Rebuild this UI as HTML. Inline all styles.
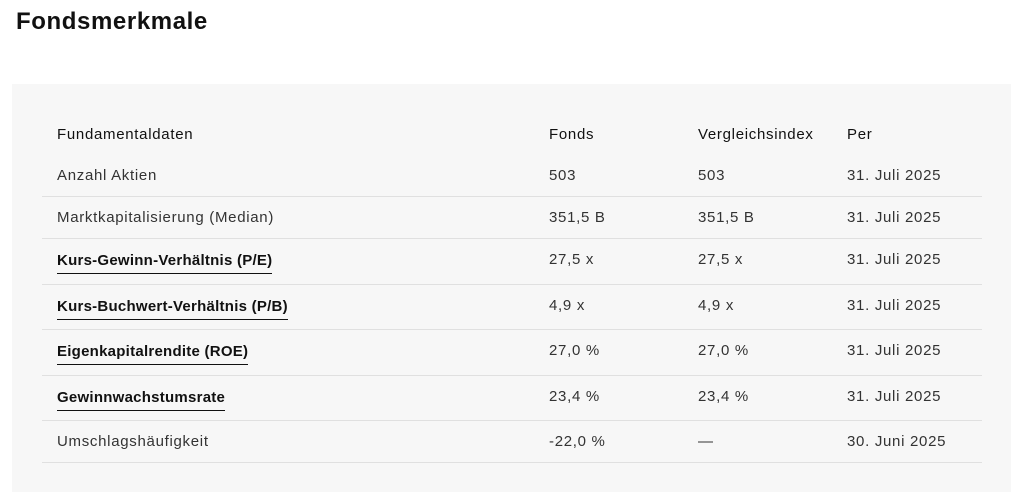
<!DOCTYPE html>
<html><head><meta charset="utf-8"><style>
body{margin:0;width:1024px;height:502px;background:#fff;font-family:"Liberation Sans",sans-serif;color:#222;position:relative;overflow:hidden}
h1{position:absolute;left:16px;top:8px;margin:0;font-size:24px;font-weight:bold;color:#111;letter-spacing:0.6px}
.panel{position:absolute;left:12px;top:84px;width:999px;height:408px;background:#f7f7f7}
.c{position:absolute;font-size:15px;line-height:18px;white-space:nowrap;color:#333;letter-spacing:0.7px}
.h{color:#111}
.b{font-weight:bold;color:#111;border-bottom:1.5px solid #111;padding-bottom:3px;letter-spacing:0.25px}
.line{position:absolute;left:42px;width:940px;height:1px;background:#e0e0e0}
</style></head><body>
<h1>Fondsmerkmale</h1>
<div class="panel"></div>
<div id="t"></div>
<script>
const rows=[
["Anzahl Aktien","503","503","31. Juli 2025",false],
["Marktkapitalisierung (Median)","351,5 B","351,5 B","31. Juli 2025",false],
["Kurs-Gewinn-Verhältnis (P/E)","27,5 x","27,5 x","31. Juli 2025",true],
["Kurs-Buchwert-Verhältnis (P/B)","4,9 x","4,9 x","31. Juli 2025",true],
["Eigenkapitalrendite (ROE)","27,0 %","27,0 %","31. Juli 2025",true],
["Gewinnwachstumsrate","23,4 %","23,4 %","31. Juli 2025",true],
["Umschlagshäufigkeit","-22,0 %","—","30. Juni 2025",false]];
const ys=[176,218,260,306,351,397,442];
const lines=[196,238,284,329,375,420,462];
const xs=[57,549,698,847];
const t=document.getElementById('t');
function add(txt,x,y,cls,name,inter){const d=document.createElement('div');d.className='c '+cls;d.textContent=txt;d.style.left=x+'px';d.style.top=(y-9)+'px';


t.appendChild(d);}
["Fundamentaldaten","Fonds","Vergleichsindex","Per"].forEach((h,i)=>add(h,xs[i],135,'h','header-'+['metric','fund','index','date'][i],false));
rows.forEach((r,i)=>{
 add(r[0],xs[0],ys[i]+(r[4]?1:0),r[4]?'b':'','row-label',r[4]);
 for(let k=1;k<4;k++)add(r[k],xs[k],ys[i],'',['','fund-value','index-value','as-of-date'][k],false);
 const l=document.createElement('div');l.className='line';l.style.top=lines[i]+'px';
 
 
 t.appendChild(l);
});
</script>
</body></html>
